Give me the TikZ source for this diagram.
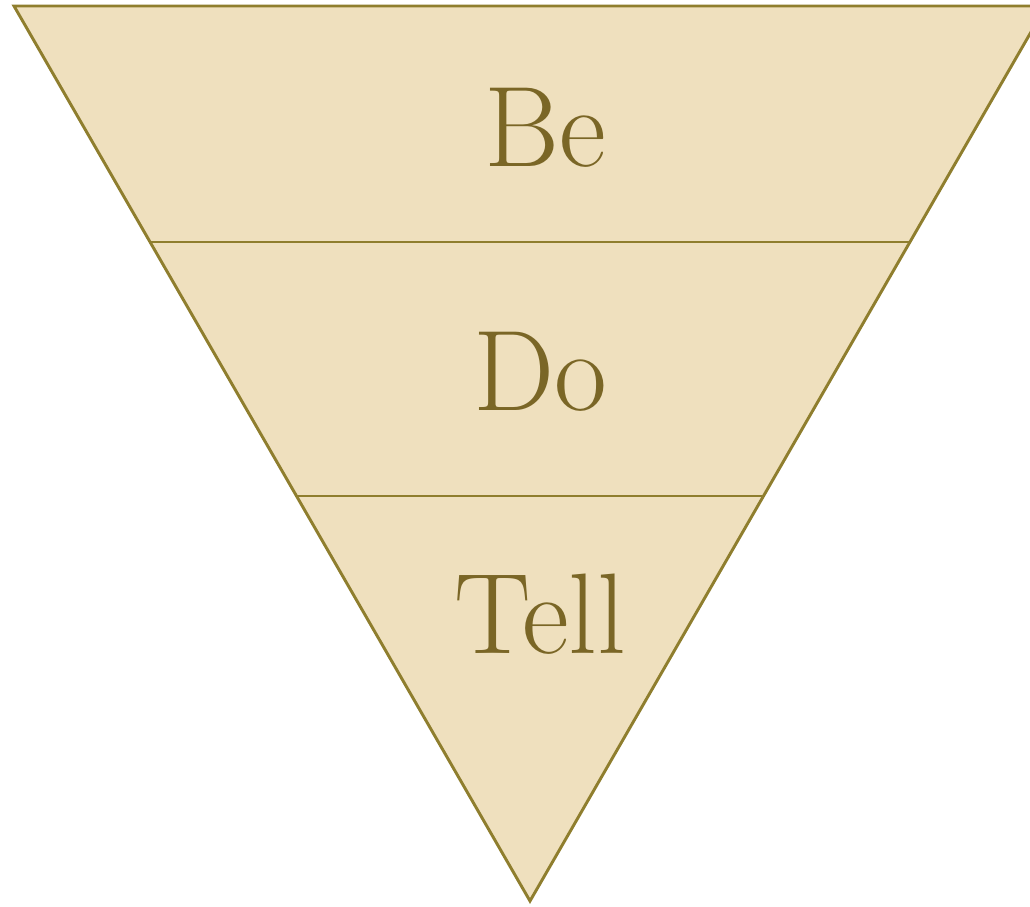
\documentclass[tikz,border=0pt]{standalone}
\usepackage{fontspec}
\usetikzlibrary{positioning}
\definecolor{parch}{HTML}{EFE0BE}
\definecolor{rim}{HTML}{8F7E2E}
\definecolor{ink}{HTML}{7A6626}

\begin{document}
\begin{tikzpicture}[x=0.75pt,y=-0.75pt,
  band/.style={fill=parch, draw=rim, line width=2.2pt, line join=miter},
  divider/.style={draw=rim, line width=2pt},
  word/.style={text=ink, font=\fontsize{86}{96}\selectfont, inner sep=0pt}]
\useasboundingbox (0,0) rectangle (1030,906);
\clip (0,0) rectangle (1030,906);
% outline of the funnel
\coordinate (tl) at (14,6);
\coordinate (tr) at (1046,6);
\coordinate (tip) at (530,901);
\coordinate (l1) at (150,242);
\coordinate (r1) at (910,242);
\coordinate (l2) at (296,496);
\coordinate (r2) at (764,496);
\filldraw[band] (tl) -- (tr) -- (tip) -- cycle;
\draw[divider] (l1) -- (r1);
\draw[divider] (l2) -- (r2);
% labels
\node[word] (be) at (545,128) {Be};
\node[word] (do) at (540,372) {Do};
\node[word] (tell) at (540,614) {Tell};
\end{tikzpicture}
\end{document}
